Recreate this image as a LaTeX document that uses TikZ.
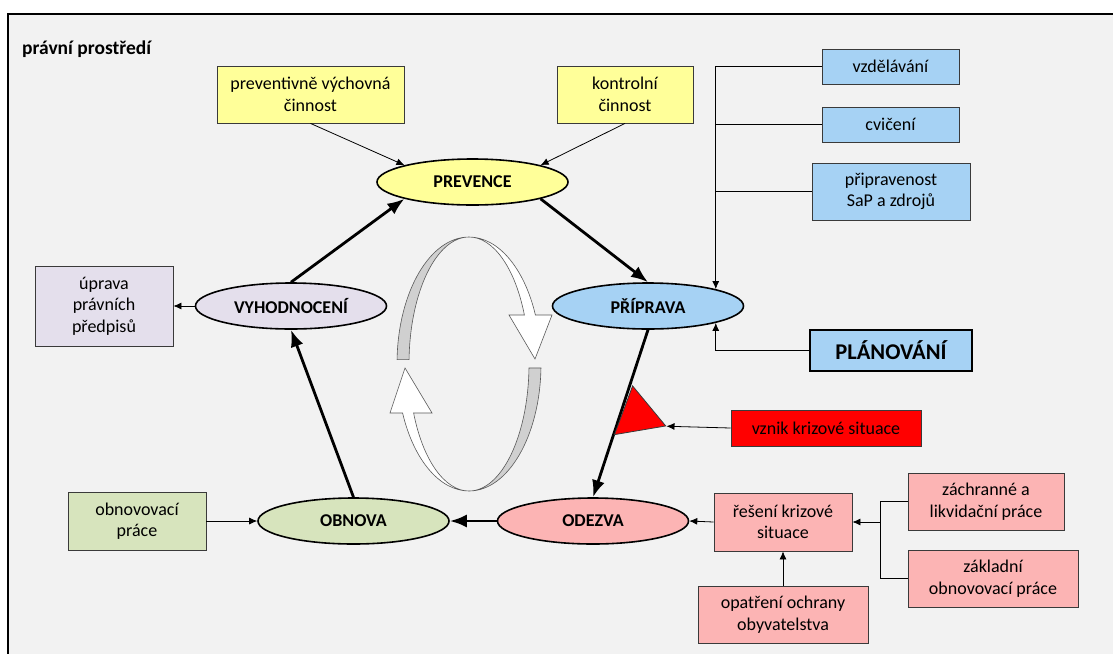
\documentclass[tikz,border=0pt]{standalone}
\usepackage{fontspec}
\setmainfont{Carlito}
\usetikzlibrary{arrows.meta,shapes.geometric}
\definecolor{paper}{HTML}{F2F2F2}
\definecolor{yellowA}{HTML}{FFFF99}
\definecolor{blueA}{HTML}{A6D2F4}
\definecolor{lilac}{HTML}{E4DFEC}
\definecolor{greenA}{HTML}{D7E4BD}
\definecolor{pinkA}{HTML}{FCB4B4}
\definecolor{boxline}{HTML}{3A3A3A}
\definecolor{ribbon}{HTML}{D0D0D0}
\tikzset{
  phase/.style={ellipse, draw, line width=1.6pt, minimum width=191pt, minimum height=46pt,
    inner sep=0pt, font=\fontsize{18}{21}\selectfont\bfseries},
  box/.style={rectangle, draw=boxline, line width=0.8pt, inner sep=0pt, align=center,
    font=\fontsize{18}{21.6}\selectfont},
  flow/.style={line width=2.8pt, -{Latex[length=17pt,width=13pt]}},
  feed/.style={line width=0.8pt, -{Latex[length=8pt,width=7pt]}},
  band/.style={draw=black!65, line width=0.6pt},
}
\begin{document}
\begin{tikzpicture}[x=1pt,y=-1pt]
  \useasboundingbox (0,0) rectangle (1113,654);
  \fill[paper] (8,14) rectangle (1113,654);
  \draw[line width=2.4pt] (1113,14) -- (8,14) -- (8,654);
  \draw
    (22,49) node[anchor=west, inner sep=0pt, font=\fontsize{19.5}{23}\selectfont\bfseries] (prostredi) {právní prostředí}
    (472.5,182) node[phase, fill=yellowA] (prevence) {PREVENCE}
    (648,306) node[phase, fill=blueA] (priprava) {PŘÍPRAVA}
    (593,521) node[phase, fill=pinkA] (odezva) {ODEZVA}
    (353.5,521) node[phase, fill=greenA] (obnova) {OBNOVA}
    (291,306) node[phase, fill=lilac] (vyhodnoceni) {VYHODNOCENÍ};
  \draw
    (310.5,94.5) node[box, fill=yellowA, minimum width=187pt, minimum height=57pt] (vychovna) {preventivně výchovná\\činnost}
    (625,94.5) node[box, fill=yellowA, minimum width=136pt, minimum height=57pt] (kontrolni) {kontrolní\\činnost}
    (890.5,66.5) node[box, fill=blueA, minimum width=137pt, minimum height=35pt] (vzdelavani) {vzdělávání}
    (890.5,124.5) node[box, fill=blueA, minimum width=137pt, minimum height=35pt] (cviceni) {cvičení}
    (891,191.5) node[box, fill=blueA, minimum width=158pt, minimum height=57pt] (pripravenost) {připravenost\\SaP a zdrojů}
    (891,350.5) node[box, fill=blueA, draw=black, line width=2.4pt, minimum width=162pt, minimum height=41pt,
      font=\fontsize{22.5}{26}\selectfont\bfseries] (planovani) {PLÁNOVÁNÍ}
    (826,428) node[box, fill=red, minimum width=190pt, minimum height=36pt] (vznik) {vznik krizové situace}
    (783,522) node[box, fill=pinkA, minimum width=138pt, minimum height=58pt] (reseni) {řešení krizové\\situace}
    (986,501.5) node[box, fill=pinkA, minimum width=156pt, minimum height=57pt] (zachranne) {záchranné a\\likvidační práce}
    (993,578.5) node[box, fill=pinkA, minimum width=170pt, minimum height=57pt] (zakladni) {základní\\obnovovací práce}
    (783,614.5) node[box, fill=pinkA, minimum width=170pt, minimum height=57pt] (opatreni) {opatření ochrany\\obyvatelstva}
    (137,521) node[box, fill=greenA, minimum width=138pt, minimum height=58pt] (obnovovaci) {obnovovací\\práce}
    (104,306) node[box, fill=lilac, minimum width=138pt, minimum height=80pt] (uprava) {úprava\\právních\\předpisů};
  % cycle
  \begin{scope}[flow]
    \draw (prevence.south east) to (priprava.north);
    \draw (priprava.south) to (odezva.north);
    \draw (odezva.west) to (obnova.east);
    \draw (obnova.north) to (vyhodnoceni.south);
    \draw (vyhodnoceni.north) to (prevence.south west);
  \end{scope}
  \draw (637.6,415.5) node[regular polygon, regular polygon sides=3, minimum size=60pt, inner sep=0pt,
    rotate=-110.4, fill=red, draw=boxline, line width=0.8pt] (vznikpoint) {};
  % inputs
  \coordinate (zasah) at (880,522);
  \begin{scope}[feed]
    \draw (vychovna.south) to (prevence.north west);
    \draw (kontrolni.south) to (prevence.north east);
    \draw (vzdelavani.west) -| (priprava.14);
    \draw[-] (cviceni.west) -- (cviceni.west -| priprava.14);
    \draw[-] (pripravenost.west) -- (pripravenost.west -| priprava.14);
    \draw (planovani.west) -| (priprava.-14);
    \draw (vznik.west) to (vznikpoint.corner 1);
    \draw[-] (zachranne.west) -| (zasah);
    \draw[-] (zakladni.west) -| (zasah);
    \draw (zasah) to (reseni.east);
    \draw (opatreni.north) to (reseni.south);
    \draw (reseni.west) to (odezva.east);
    \draw (obnovovaci.east) to (obnova.west);
    \draw (vyhodnoceni.west) to (uprava.east);
  \end{scope}
  % turning arrows
  \filldraw[band, fill=ribbon] (469,364) ++(182:72 and 127)
    arc[start angle=182, end angle=270, x radius=72, y radius=127]
    arc[start angle=270, end angle=182, x radius=60, y radius=127] -- cycle;
  \filldraw[band, fill=white] (469,237)
    arc[start angle=270, end angle=337.3, x radius=72, y radius=127]
    -- (552,315) -- (535,359) -- (509,315) -- (524.4,315)
    arc[start angle=337.3, end angle=270, x radius=60, y radius=127] -- cycle;
  \filldraw[band, fill=ribbon] (469,364) ++(1.8:72 and 127)
    arc[start angle=1.8, end angle=90, x radius=72, y radius=127]
    arc[start angle=90, end angle=1.8, x radius=60, y radius=127] -- cycle;
  \filldraw[band, fill=white] (469,491)
    arc[start angle=90, end angle=157.3, x radius=72, y radius=127]
    -- (390,413) -- (405,368) -- (432,413) -- (413.6,413)
    arc[start angle=157.3, end angle=90, x radius=60, y radius=127] -- cycle;
\end{tikzpicture}
\end{document}
